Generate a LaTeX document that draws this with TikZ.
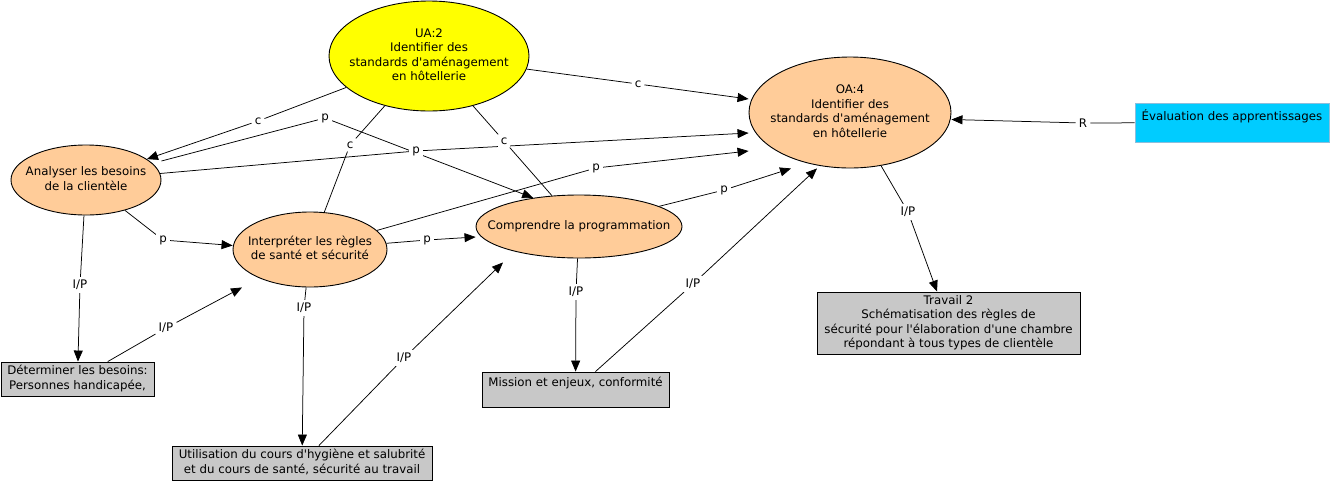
\documentclass[tikz,border=0pt]{standalone}
\usepackage{fontspec}
\setmainfont{DejaVu Sans}[Ligatures=TeXOff]
\usetikzlibrary{shapes.geometric,arrows.meta}
\pgfdeclarelayer{edges}
\pgfsetlayers{edges,main}
\definecolor{peach}{RGB}{255,204,153}
\definecolor{uayellow}{RGB}{255,255,0}
\definecolor{boxgray}{RGB}{200,200,200}
\definecolor{evalcyan}{RGB}{0,204,255}
\definecolor{evalborder}{RGB}{140,190,220}
\newcommand{\ctrtext}[1]{\makebox[0pt]{\begin{tabular}{@{}c@{}}#1\end{tabular}}}
\begin{document}
\begin{tikzpicture}[x=1pt,y=-1pt,
  every node/.style={font=\fontsize{11.8}{14.5}\selectfont},
  concept/.style={ellipse, draw=black, line width=0.9pt, fill=peach, inner sep=0pt},
  resbox/.style={rectangle, draw=black, line width=0.9pt, fill=boxgray, inner sep=0pt},
  lbl/.style={fill=white, inner sep=3pt},
  link/.style={line width=0.75pt},
  arr/.style={line width=0.75pt, -{Triangle[length=11pt,width=9pt]}}
]
\useasboundingbox (0,0) rectangle (1333,483);

% concepts
\node[concept, fill=uayellow, minimum width=200pt, minimum height=110pt] (ua) at (429,56)
  {\ctrtext{UA:2\\Identifier des\\standards d'aménagement\\en hôtellerie}};
\node[concept, minimum width=202pt, minimum height=111pt] (oa) at (850,112.5)
  {\ctrtext{OA:4\\Identifier des\\standards d'aménagement\\en hôtellerie}};
\node[concept, minimum width=150pt, minimum height=70pt] (an) at (86,180)
  {\ctrtext{Analyser les besoins\\de la clientèle}};
\node[concept, minimum width=154pt, minimum height=75pt] (int) at (310,249.5)
  {\ctrtext{Interpréter les règles\\de santé et sécurité}};
\node[concept, minimum width=206pt, minimum height=63pt] (comp) at (579,226.5)
  {\ctrtext{Comprendre la programmation}};

% resources
\node[resbox, minimum width=153pt, minimum height=34pt] (det) at (77.5,379)
  {\ctrtext{Déterminer les besoins:\\Personnes handicapée,}};
\node[resbox, minimum width=260pt, minimum height=34pt] (util) at (302,463)
  {\ctrtext{Utilisation du cours d'hygiène et salubrité\\et du cours de santé, sécurité au travail}};
\node[resbox, minimum width=187pt, minimum height=35pt] (mis) at (575.5,389.5)
  {\ctrtext{Mission et enjeux, conformité\rule[-16pt]{0pt}{1pt}}};
\node[resbox, minimum width=263pt, minimum height=62pt] (trav) at (948.5,323)
  {\ctrtext{Travail 2\\Schématisation des règles de\\sécurité pour l'élaboration d'une chambre\\répondant à tous types de clientèle}};
\node[resbox, fill=evalcyan, draw=evalborder, minimum width=194pt, minimum height=39pt] (ev) at (1232,122.5)
  {\ctrtext{Évaluation des apprentissages\rule[-15pt]{0pt}{1pt}}};

% link labels
\node[lbl] (c1) at (258,121) {c};
\node[lbl] (p1) at (325,118) {p};
\node[lbl] (p2) at (416,151) {p};
\node[lbl] (c2) at (350,145) {c};
\node[lbl] (c3) at (504,141) {c};
\node[lbl] (c4) at (638,84) {c};
\node[lbl] (p3) at (596,168) {p};
\node[lbl] (p4) at (427,240) {p};
\node[lbl] (p5) at (163,240) {p};
\node[lbl] (p6) at (724,190) {p};
\node[lbl] (ip1) at (80,285) {I/P};
\node[lbl] (ip2) at (166,328) {I/P};
\node[lbl] (ip3) at (304,308) {I/P};
\node[lbl] (ip4) at (404,358) {I/P};
\node[lbl] (ip5) at (576,292) {I/P};
\node[lbl] (ip6) at (693,284) {I/P};
\node[lbl] (ip7) at (908,212) {I/P};
\node[lbl] (r1) at (1083,123) {R};

\begin{pgfonlayer}{edges}
\draw[link] (ua) -- (c1);  \draw[arr] (c1) -- (an);
\draw[link] ([yshift=19pt]an.east) -- (p1);  \draw[arr] (p1) -- (comp.148);
\draw[link] (an) -- (p2);  \draw[arr] (p2) -- ([yshift=-20.5pt]oa.west);
\draw[link] (ua) -- (c2);  \draw[link] (c2) -- (int);
\draw[link] (ua) -- (c3);  \draw[link] (c3) -- (comp);
\draw[link] (ua) -- (c4);  \draw[arr] (c4) -- ([yshift=13.5pt]oa.west);
\draw[link] (int) -- (p3); \draw[arr] (p3) -- ([yshift=-38.5pt]oa.west);
\draw[link] (int) -- (p4); \draw[arr] (p4) -- ([yshift=-10.5pt]comp.west);
\draw[link] (an) -- (p5);  \draw[arr] (p5) -- ([yshift=4pt]int.west);
\draw[link] (comp) -- (p6); \draw[arr] (p6) -- ([xshift=-59pt]oa.south);
\draw[link] (an) -- (ip1); \draw[arr] (ip1) -- (det);
\draw[link] (det) -- (ip2); \draw[arr] (ip2) -- ([xshift=-68pt]int.south);
\draw[link] (int) -- (ip3); \draw[arr] (ip3) -- (util);
\draw[link] (util) -- (ip4); \draw[arr] (ip4) -- ([xshift=-76pt,yshift=-4pt]comp.south);
\draw[link] (comp) -- (ip5); \draw[arr] (ip5) -- (mis);
\draw[link] (mis) -- (ip6); \draw[arr] (ip6) -- ([xshift=-33pt]oa.south);
\draw[link] (oa) -- (ip7); \draw[arr] (ip7) -- (trav);
\draw[link] (ev) -- (r1);  \draw[arr] (r1) -- ([yshift=-7pt]oa.east);
\end{pgfonlayer}
\end{tikzpicture}
\end{document}
